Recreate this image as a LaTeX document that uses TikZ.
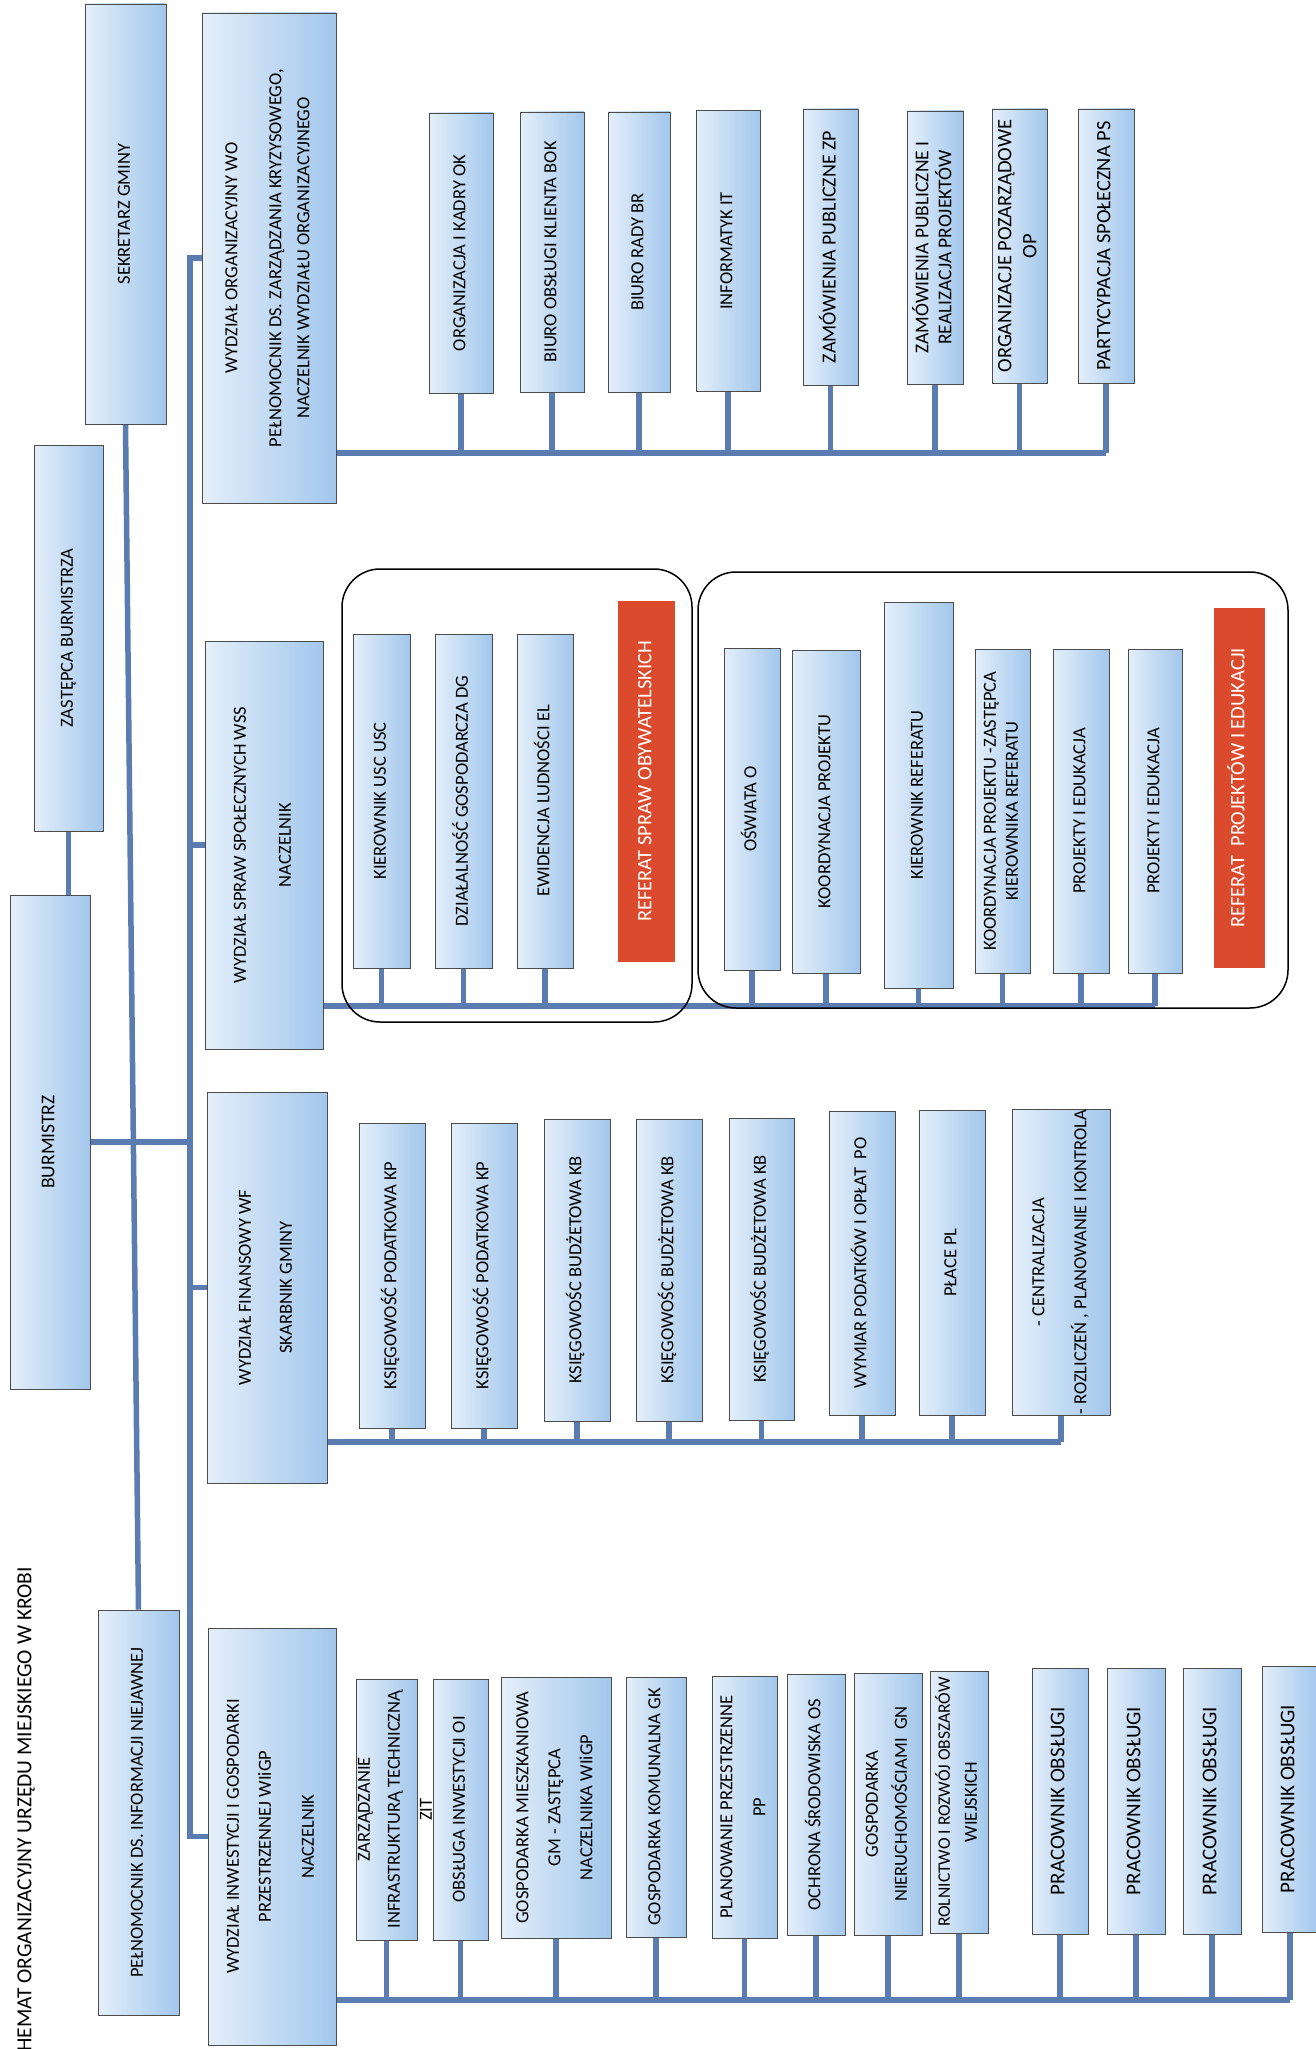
\documentclass[tikz,border=0pt]{standalone}
\usepackage{fontspec}
\setmainfont{Carlito}
\usepackage{graphicx}
\usetikzlibrary{calc,backgrounds}

\definecolor{boxl}{HTML}{E4EFFA}
\definecolor{boxr}{HTML}{A2C7EC}
\definecolor{linkc}{HTML}{5A7CB0}
\definecolor{refred}{HTML}{DC4A2E}

\newcommand{\vlab}[1]{\rotatebox{90}{\begin{tabular}{@{}c@{}}#1\end{tabular}}}
\newcommand{\fsz}[1]{\fontsize{#1}{22}\selectfont}

\tikzset{
  unit/.style={draw=black!70, line width=0.9pt, left color=boxl, right color=boxr, inner sep=0pt, font=\fontsize{18.5}{22}\selectfont},
  refunit/.style={fill=refred, text=white, inner sep=0pt, font=\fontsize{20.5}{24}\selectfont},
  link/.style={draw=linkc, line width=5.5pt},
  grp/.style={draw=black, line width=1.5pt, rounded corners=38pt},
}

\begin{document}
\begin{tikzpicture}[x=1pt,y=-1pt]
\useasboundingbox (0,0) rectangle (1315,2049);

% title (cut at the page edge)
\node[rotate=90, anchor=west, inner sep=0pt, font=\fontsize{21.5}{25}\selectfont] (tytul) at (26,2052) {HEMAT ORGANIZACYJNY URZĘDU MIEJSKIEGO W KROBI};

% top level
\node[unit, minimum width=81, minimum height=420] (sek) at (125.5,214) {\vlab{SEKRETARZ GMINY}};
\node[unit, minimum width=69, minimum height=386] (zast) at (68.5,638) {\vlab{ZASTĘPCA BURMISTRZA}};
\node[unit, minimum width=80, minimum height=494] (burm) at (50,1142) {\vlab{\fsz{19.5}BURMISTRZ}};
\node[unit, minimum width=81, minimum height=405] (pelno) at (138.5,1812.5) {\vlab{PEŁNOMOCNIK DS. INFORMACJI NIEJAWNEJ}};
\coordinate (spine) at (190,0);

% departments
\node[unit, minimum width=134, minimum height=490] (wo) at (269,258) {\vlab{WYDZIAŁ ORGANIZACYJNY WO\\[22pt] PEŁNOMOCNIK DS. ZARZĄDZANIA KRYZYSOWEGO,\\[6pt] NACZELNIK WYDZIAŁU ORGANIZACYJNEGO}};
\node[unit, minimum width=118, minimum height=408] (wss) at (264,845) {\vlab{WYDZIAŁ SPRAW SPOŁECZNYCH WSS\\[23pt] NACZELNIK}};
\node[unit, minimum width=120, minimum height=391] (wf) at (267,1287.5) {\vlab{WYDZIAŁ FINANSOWY WF\\[19pt] SKARBNIK GMINY}};
\node[unit, minimum width=128, minimum height=417] (wiigp) at (272,1836.5) {\vlab{WYDZIAŁ INWESTYCJI I GOSPODARKI\\[10pt] PRZESTRZENNEJ WIiGP\\[21pt] NACZELNIK}};

% WO
\foreach \n/\x/\w/\y/\h/\txt in {
  ok/461/64/253/280/{ORGANIZACJA I KADRY OK},
  bok/552/64/252/280/{BIURO OBSŁUGI KLIENTA BOK},
  br/639/62/252/280/{BIURO RADY BR},
  it/728/64/251/281/{INFORMATYK IT},
  zp/830.5/55/247/276/{\fsz{20}ZAMÓWIENIA PUBLICZNE ZP},
  zprp/935/56/247.5/273/{\fsz{19.5}ZAMÓWIENIA PUBLICZNE I\\ \fsz{19.5}REALIZACJA PROJEKTÓW},
  op/1019.5/55/246/274/{\fsz{20.5}ORGANIZACJE POZARZĄDOWE\\[3pt] \fsz{20.5}OP},
  ps/1106/56/246/274/{\fsz{20.5}PARTYCYPACJA SPOŁECZNA PS}}
  \node[unit, minimum width=\w, minimum height=\h] (\n) at (\x,\y) {\vlab{\txt}};

% WSS
\foreach \n/\x/\w/\y/\h/\txt in {
  usc/381.5/57/801/334/{KIEROWNIK USC USC},
  dg/463.5/57/801/334/{DZIAŁALNOŚĆ GOSPODARCZA DG},
  el/545/56/801/334/{EWIDENCJA LUDNOŚCI EL},
  osw/752/56/809/322/{OŚWIATA O},
  koord/826/68/811.5/323/{KOORDYNACJA PROJEKTU},
  kier/918.5/69/795/386/{KIEROWNIK REFERATU},
  kzast/1002.5/55/811/324/{KOORDYNACJA PROJEKTU -ZASTĘPCA\\ KIEROWNIKA REFERATU},
  proj1/1081/56/811/324/{PROJEKTY I EDUKACJA},
  proj2/1155/54/811/324/{PROJEKTY I EDUKACJA}}
  \node[unit, minimum width=\w, minimum height=\h] (\n) at (\x,\y) {\vlab{\txt}};
\node[refunit, minimum width=57, minimum height=361] (refso) at (646.5,781.5) {\vlab{REFERAT SPRAW OBYWATELSKICH}};
\node[refunit, minimum width=51, minimum height=360] (refpe) at (1239.5,788) {\vlab{REFERAT\ \ PROJEKTÓW I EDUKACJI}};
\draw[grp] (342,569) rectangle (692,1022);
\draw[grp] (698,572) rectangle (1288,1008);

% WF
\foreach \n/\x/\w/\y/\h/\txt in {
  kp1/392/66/1275.5/305/{KSIĘGOWOŚĆ PODATKOWA KP},
  kp2/484/66/1275.5/305/{KSIĘGOWOŚĆ PODATKOWA KP},
  kb1/577/66/1270/302/{KSIĘGOWOŚC BUDŻETOWA KB},
  kb2/669/66/1270/302/{KSIĘGOWOŚC BUDŻETOWA KB},
  kb3/761.5/65/1269/302/{KSIĘGOWOŚC BUDŻETOWA KB},
  po/862/66/1263/304/{WYMIAR PODATKÓW I OPŁAT\ \ PO},
  pl/952/66/1262.5/305/{PŁACE PL},
  centr/1061/98/1262/306/{- CENTRALIZACJA\\[20pt] - ROZLICZEŃ , PLANOWANIE I KONTROLA}}
  \node[unit, minimum width=\w, minimum height=\h] (\n) at (\x,\y) {\vlab{\txt}};

% WIiGP
\node[unit, minimum width=61, minimum height=261] (zit) at (386.5,1809.5) {};
\node[inner sep=0pt, font=\fontsize{18.5}{22}\selectfont] (zit-t) at ($(zit)+(10,0)$) {\vlab{ZARZĄDZANIE\\[8pt] INFRASTRUKTURĄ TECHNICZNĄ\\[10pt] ZIT}};
\foreach \n/\x/\w/\y/\h/\txt in {
  oi/460.5/55/1809.5/261/{OBSŁUGA INWESTYCJI OI},
  gm/556/110/1807.5/261/{GOSPODARKA MIESZKANIOWA\\[10pt] GM - ZASTĘPCA\\[10pt] NACZELNIKA WIiGP},
  gk/656/60/1807/260/{GOSPODARKA KOMUNALNA GK},
  pp/744.5/65/1807/262/{PLANOWANIE PRZESTRZENNE\\[11pt] PP},
  os/816/58/1804.5/261/{OCHRONA ŚRODOWISKA OS},
  gn/888/68/1804/262/{GOSPODARKA\\[7pt] NIERUCHOMOŚCIAMI\ \ GN},
  rol/959/58/1802/262/{\fsz{17.5}ROLNICTWO I ROZWÓJ OBSZARÓW\\[5pt] WIEJSKICH},
  prac1/1060/56/1801/266/{\fsz{21}PRACOWNIK OBSŁUGI},
  prac2/1136/58/1801/266/{\fsz{21}PRACOWNIK OBSŁUGI},
  prac3/1212/58/1801/266/{\fsz{21}PRACOWNIK OBSŁUGI},
  prac4/1290/56/1799/266/{\fsz{21}PRACOWNIK OBSŁUGI}}
  \node[unit, minimum width=\w, minimum height=\h] (\n) at (\x,\y) {\vlab{\txt}};

\begin{scope}[on background layer]
\fill[white] (0,0) rectangle (1315,2049);
% main lines
\draw[link] (sek.south) -- (pelno.north);
\draw[link] (zast.south) -- (zast.south |- burm.north);
\draw[link] (burm.east) -- (burm.east -| spine);
\draw[link] (wo.west) -- (wo.west -| spine) -- (wiigp.west -| spine) -- (wiigp.west);
\foreach \d in {wss,wf}
  \draw[link] (\d.west) -- (\d.west -| spine);
% buses
\draw[link] (wo.east |- 0,453) -- (ps.south |- 0,453);
\foreach \n in {ok,bok,br,it,zp,zprp,op,ps}
  \draw[link] (\n.south) -- (\n.south |- 0,453);
\draw[link] (wss.east |- 0,1006) -- (proj2.south |- 0,1006);
\foreach \n in {usc,dg,el,osw,koord,kier,kzast,proj1,proj2}
  \draw[link] (\n.south) -- (\n.south |- 0,1006);
\draw[link] (wf.east |- 0,1442) -- (centr.south |- 0,1442);
\foreach \n in {kp1,kp2,kb1,kb2,kb3,po,pl,centr}
  \draw[link] (\n.south) -- (\n.south |- 0,1442);
\draw[link] (wiigp.east |- 0,2000) -- (prac4.south |- 0,2000);
\foreach \n in {zit,oi,gm,gk,pp,os,gn,rol,prac1,prac2,prac3,prac4}
  \draw[link] (\n.south) -- (\n.south |- 0,2000);
\end{scope}
\end{tikzpicture}
\end{document}
